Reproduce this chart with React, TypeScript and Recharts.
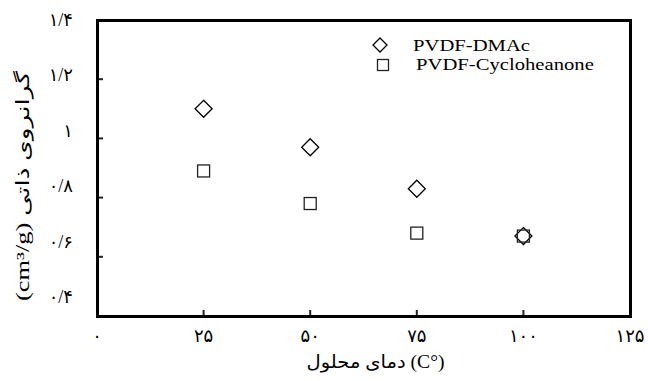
import { ScatterChart, Scatter, XAxis, YAxis, Label } from 'recharts';

const temperatures = [25, 50, 75, 100];
const dmacViscosity = [1.1, 0.97, 0.83, 0.67];
const cycloViscosity = [0.89, 0.78, 0.68, 0.67];
const seriesNames = ['PVDF-DMAc', 'PVDF-Cycloheanone'];

const xTicks = [0, 25, 50, 75, 100, 125];
const xTickLabels = ['۰', '۲۵', '۵۰', '۷۵', '۱۰۰', '۱۲۵'];
const yTicks = [0.4, 0.6, 0.8, 1, 1.2, 1.4];
const yTickLabels = ['۰/۴', '۰/۶', '۰/۸', '۱', '۱/۲', '۱/۴'];

const xTitle = 'دمای محلول (C°)';
const yTitle = '(cm³/g) گرانروی ذاتی';

const dmacData = temperatures.map((t, i) => ({ x: t, y: dmacViscosity[i] }));
const cycloData = temperatures.map((t, i) => ({ x: t, y: cycloViscosity[i] }));

const FONT = "'Liberation Serif', 'DejaVu Sans', serif";

function Diamond({ cx, cy, r = 8.5 }: any) {
  return (
    <path
      d={`M${cx},${cy - r}L${cx + r},${cy}L${cx},${cy + r}L${cx - r},${cy}Z`}
      fill="none"
      stroke="#000"
      strokeWidth={1.3}
    />
  );
}

function Square({ cx, cy, s = 6 }: any) {
  return (
    <rect x={cx - s} y={cy - s} width={2 * s} height={2 * s} fill="none" stroke="#222" strokeWidth={1.3} />
  );
}

function XTick({ x, y, payload, index }: any) {
  return (
    <text x={x} y={y} textAnchor="middle" dominantBaseline="central" fontFamily={FONT} fontSize={18} fill="#000">
      {xTickLabels[index] ?? payload.value}
    </text>
  );
}

function YTick({ x, y, payload, index }: any) {
  // labels in the reference sit a little higher the further down they are
  const shift = -(1.4 - payload.value) * 19;
  return (
    <text x={x} y={y + shift} textAnchor="end" dominantBaseline="central" fontFamily={FONT} fontSize={18} fill="#000">
      {yTickLabels[index] ?? payload.value}
    </text>
  );
}

function LegendBox() {
  const text = {
    display: 'inline-block',
    lineHeight: '19.5px',
    transform: 'scaleX(1.18)',
    transformOrigin: 'left center',
    whiteSpace: 'nowrap' as const,
  };
  return (
    <div style={{ position: 'absolute', left: 372, top: 35.5, fontFamily: FONT, fontSize: 17.5, color: '#000' }}>
      <div style={{ display: 'flex', alignItems: 'center', height: 19.5 }}>
        <svg width={41} height={18}>
          <Diamond cx={8} cy={9} r={7} />
        </svg>
        <span style={text}>{seriesNames[0]}</span>
      </div>
      <div style={{ display: 'flex', alignItems: 'center', height: 19.5, marginLeft: 3 }}>
        <svg width={41} height={18}>
          <Square cx={8} cy={9} s={5.5} />
        </svg>
        <span style={text}>{seriesNames[1]}</span>
      </div>
    </div>
  );
}

export default function App() {
  return (
    <div style={{ position: 'absolute', left: 0, top: 0, width: 648, height: 381, background: '#fff' }}>
      <ScatterChart width={648} height={381} margin={{ top: 20, right: 18, bottom: 0, left: 0 }}>
        <XAxis
          type="number"
          dataKey="x"
          domain={[0, 125]}
          ticks={xTicks}
          axisLine={false}
          tickSize={-6}
          tickMargin={26}
          tickLine={{ stroke: '#222', strokeWidth: 2 }}
          tick={<XTick />}
          height={65}
          interval={0}
        >
          <Label
            content={({ viewBox }: any) => (
              <text
                x={viewBox.x + viewBox.width / 2 + 12}
                y={viewBox.y + 46}
                textAnchor="middle"
                dominantBaseline="central"
                fontFamily={FONT}
                fontSize={18}
                fill="#000"
                textLength={138}
                lengthAdjust="spacingAndGlyphs"
              >
                {xTitle}
              </text>
            )}
          />
        </XAxis>
        <YAxis
          type="number"
          dataKey="y"
          domain={[0.4, 1.4]}
          ticks={yTicks}
          axisLine={false}
          tickSize={-6}
          tickMargin={30}
          tickLine={{ stroke: '#222', strokeWidth: 2 }}
          tick={<YTick />}
          width={97}
          interval={0}
        >
          <Label
            content={({ viewBox }: any) => {
              const cx = viewBox.x + 23;
              const cy = viewBox.y + viewBox.height / 2 + 18;
              return (
                <text
                  x={cx}
                  y={cy}
                  transform={`rotate(-90, ${cx}, ${cy})`}
                  textAnchor="middle"
                  dominantBaseline="central"
                  fontFamily={FONT}
                  fontSize={18}
                  fill="#000"
                  textLength={230}
                  lengthAdjust="spacingAndGlyphs"
                >
                  {yTitle}
                </text>
              );
            }}
          />
        </YAxis>
        <Scatter name={seriesNames[0]} data={dmacData} shape={<Diamond />} isAnimationActive={false} />
        <Scatter name={seriesNames[1]} data={cycloData} shape={<Square />} isAnimationActive={false} />
      </ScatterChart>
      {/* plot frame, drawn over the plot area */}
      <div
        style={{
          position: 'absolute',
          left: 96,
          top: 19,
          width: 536,
          height: 299,
          boxSizing: 'border-box',
          border: '3px solid #000',
          pointerEvents: 'none',
        }}
      />
      <LegendBox />
    </div>
  );
}
